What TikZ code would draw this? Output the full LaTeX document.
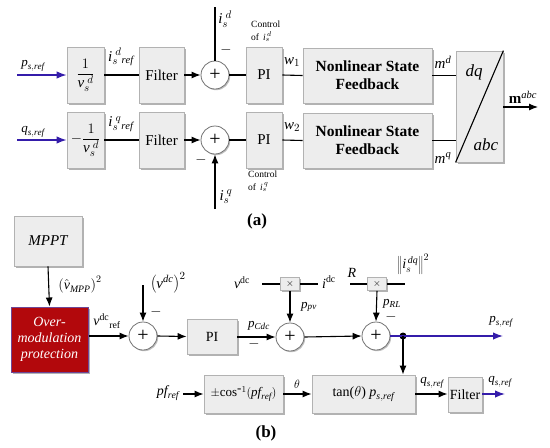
\documentclass[tikz,border=0pt]{standalone}
\usepackage{fontspec}
\setmainfont{Liberation Serif}
\usetikzlibrary{arrows.meta,shadows,calc}
\definecolor{myblue}{RGB}{52,28,170}
\definecolor{myred}{RGB}{178,8,12}
\definecolor{myborder}{RGB}{110,70,150}
\newcommand\mi[1]{\mathit{#1}}
\newcommand\fsz[1]{\fontsize{#1}{#1}\selectfont}
\tikzset{
 blk/.style={draw=black!30, fill=black!7, line width=0.8pt, inner sep=1pt, align=center,
   drop shadow={shadow xshift=1.6pt, shadow yshift=-1.6pt, opacity=0.3, fill=black}},
 sumc/.style={circle, draw=black!55, fill=white, minimum size=28pt, inner sep=0pt, line width=0.8pt,
   drop shadow={shadow xshift=1.2pt, shadow yshift=-1.2pt, opacity=0.25, fill=black}, font=\fsz{20}},
 multbox/.style={draw=black!30, fill=black!7, line width=0.6pt, minimum width=19pt, minimum height=13pt, inner sep=0pt,
   drop shadow={shadow xshift=1pt, shadow yshift=-1pt, opacity=0.3, fill=black}, font=\fsz{10}},
 ln/.style={line width=1.1pt},
 arr/.style={ln, -{Latex[length=9pt,width=7pt]}},
 barr/.style={line width=1.4pt, draw=myblue, -{Latex[length=10pt,width=7.5pt]}},
 lbl/.style={inner sep=0pt, font=\fsz{13}},
 sgn/.style={inner sep=0pt, font=\fsz{15}},
 big/.style={font=\fsz{15}},
 ctl/.style={inner sep=0pt, anchor=north west, align=left, font=\fontsize{9.5}{12.5}\selectfont},
 nsf/.style={blk, minimum width=129pt, minimum height=55pt, font=\bfseries\fontsize{15.5}{18}\selectfont},
}
\begin{document}
\begin{tikzpicture}[x=1pt,y=-1pt]
\useasboundingbox (0,0) rectangle (550,448);

% ---------------- (a) row d ----------------
\coordinate (pin1) at (17,75);
\node[blk, minimum width=37pt, minimum height=56pt, big] (inv1) at (85.5,75) {$\displaystyle\frac{1}{\mi{v}_s^{\;d}}$};
\node[blk, minimum width=45pt, minimum height=56pt, big] (filt1) at (161.5,75) {Filter};
\node[sumc] (sum1) at (215,75) {+};
\node[blk, minimum width=36pt, minimum height=56pt, big] (pi1) at (264,75) {PI};
\node[nsf] (nsf1) at (367.5,75.5) {Nonlinear State\\Feedback};
\node[blk, minimum width=47pt, minimum height=111pt] (dq) at (479.5,106.5) {};
\draw[ln] (dq.north east) -- (dq.south west);
\node[inner sep=0pt, font=\itshape\fsz{17}] (ldq) at (474,72) {dq};
\node[inner sep=0pt, font=\itshape\fsz{17}] (labc) at (486,145) {abc};
\coordinate (mout) at (538,107);
\coordinate (fb1) at (215,7);

\draw[barr] (pin1) -- (inv1.west);
\node[lbl] (lp1) at (33,66) {$\mi{p}_{\mi{s,ref}}$};
\draw[ln] (inv1.east) -- (filt1.west);
\node[lbl, font=\fsz{15}] (lid) at (121,57) {$\mi{i}_s^{\;d}{}_{\mi{ref}}$};
\draw[arr] (filt1.east) -- (sum1.west);
\draw[ln] (sum1.east) -- (pi1.west);
\draw[ln] (pi1.east) -- (nsf1.west);
\node[lbl, font=\fsz{15}] (lw1) at (292,62) {$\mi{w}_1$};
\draw[ln] (nsf1.east) -- (nsf1.east -| dq.west);
\node[lbl, font=\fsz{15}] (lmd) at (443,62) {$\mi{m}^{\mi{d}}$};
\draw[arr] (dq.east |- mout) -- (mout);
\node[lbl, font=\fsz{15}] (lmabc) at (523,97) {$\mathbf{m}^{\mi{abc}}$};
\draw[ln] (fb1) -- (sum1.north);
\node[lbl, font=\fsz{15}] (lisd) at (225,19) {$\mi{i}_s^{\;d}$};
\node[sgn] (m1) at (226,50) {$-$};
\node[ctl] (ctl1) at (251,21) {Control\\of\, $\mi{i}_s^{\,d}$};

% ---------------- (a) row q ----------------
\coordinate (pin2) at (17,140);
\node[blk, minimum width=37pt, minimum height=56pt, big] (inv2) at (85.5,140) {$\displaystyle-\frac{1}{\mi{v}_s^{\;d}}$};
\node[blk, minimum width=45pt, minimum height=56pt, big] (filt2) at (161.5,140) {Filter};
\node[sumc] (sum2) at (215,140) {+};
\node[blk, minimum width=36pt, minimum height=56pt, big] (pi2) at (264,140) {PI};
\node[nsf] (nsf2) at (367.5,140.5) {Nonlinear State\\Feedback};
\coordinate (fb2) at (215,209);

\draw[barr] (pin2) -- (inv2.west);
\node[lbl] (lq1) at (33,132) {$\mi{q}_{\mi{s,ref}}$};
\draw[ln] (inv2.east) -- (filt2.west);
\node[lbl, font=\fsz{15}] (liq) at (121,124) {$\mi{i}_s^{\;q}{}_{\mi{ref}}$};
\draw[arr] (filt2.east) -- (sum2.west);
\draw[ln] (sum2.east) -- (pi2.west);
\draw[ln] (pi2.east) -- (nsf2.west);
\node[lbl, font=\fsz{15}] (lw2) at (292,127) {$\mi{w}_2$};
\draw[ln] (nsf2.east) -- (nsf2.east -| dq.west);
\node[lbl, font=\fsz{15}] (lmq) at (443,158) {$\mi{m}^{\mi{q}}$};
\draw[arr] (fb2) -- (sum2.south);
\node[lbl, font=\fsz{15}] (lisq) at (226,197) {$\mi{i}_s^{\;q}$};
\node[sgn] (m2) at (201,160) {$-$};
\node[ctl] (ctl2) at (248,171) {Control\\of\, $\mi{i}_s^{\,q}$};

\node[inner sep=0pt, font=\bfseries\fsz{17}] (capa) at (257,221) {(a)};

% ---------------- (b) ----------------
\node[blk, minimum width=68pt, minimum height=50pt, font=\itshape\fsz{15}] (mppt) at (48,241) {MPPT};
\node[draw=myborder, fill=myred, line width=1pt, minimum width=77pt, minimum height=65pt, text=white, align=center,
  font=\itshape\fontsize{14}{16}\selectfont,
  drop shadow={shadow xshift=1.6pt, shadow yshift=-1.6pt, opacity=0.3, fill=black}] (omp) at (49.5,339.5) {Over-\\modulation\\protection};
\draw[arr] (mppt.south) -- (omp.north);
\node[lbl, font=\fsz{14}] (lvmpp) at (80,285) {$\left(\hat{\mi{v}}_{\mi{MPP}}\right)^2$};

\node[sumc] (sA) at (143,336) {+};
\node[blk, minimum width=50pt, minimum height=35pt, font=\fsz{14}] (piB) at (212,336.5) {PI};
\node[sumc] (sB) at (290,337) {+};
\node[sumc] (sC) at (376,336) {+};
\node[multbox] (mu1) at (290,284) {$\times$};
\node[multbox] (mu2) at (377,284) {$\times$};
\coordinate (vtop) at (143,285);
\coordinate (vdcL) at (262,284);
\coordinate (idcR) at (318,284);
\coordinate (rL) at (350,284);
\coordinate (iR) at (405,284);
\node[circle, fill=black, inner sep=0pt, minimum size=7pt] (dot) at (403,336) {};
\coordinate (pout) at (503,336);

\draw[arr] (sA.west -| omp.east) -- (sA.west);
\node[lbl, font=\fsz{14}] (lvref) at (107,321) {$\mi{v}^{\mathrm{dc}}{}_{\mathrm{ref}}$};
\draw[arr] (vtop) -- (sA.north);
\node[lbl, font=\fsz{15}] (lvdc2) at (168,283) {$\left(\mi{v}^{\mi{dc}}\right)^2$};
\node[sgn] (m3) at (156,312) {$-$};
\draw[arr] (sA.east) -- (piB.west);
\draw[arr] (piB.east |- sB.west) -- (sB.west);
\node[lbl] (lpc) at (259,326) {$\mi{p}_{\mi{Cdc}}$};
\node[sgn] (m4) at (254,344) {$-$};
\draw[ln] (vdcL) -- (mu1.west);
\draw[ln] (mu1.east) -- (idcR);
\node[lbl, font=\fsz{14}] (lvdc) at (242,283) {$\mi{v}^{\mathrm{dc}}$};
\node[lbl, font=\fsz{14}] (lidc) at (329,282) {$\mi{i}^{\mathrm{dc}}$};
\draw[arr] (mu1.south) -- (sB.north);
\node[lbl] (lppv) at (309,307) {$\mi{p}_{\mi{pv}}$};
\draw[arr] (sB.east) -- (sC.west);
\draw[ln] (rL) -- (mu2.west);
\draw[ln] (mu2.east) -- (iR);
\node[lbl, font=\fsz{14}] (lR) at (352,273) {$\mi{R}$};
\node[lbl, font=\fsz{14}] (lidq) at (413,264) {$\left\|\mi{i}_s^{\,\mi{dq}}\right\|^2$};
\draw[arr] (mu2.south) -- (sC.north);
\node[lbl] (lprl) at (392,304) {$\mi{p}_{\mi{RL}}$};
\node[sgn] (m5) at (391,317) {$-$};
\draw[line width=1.4pt, draw=myblue] (sC.east) -- (dot.center);
\draw[barr] (dot.center) -- (pout);
\node[lbl] (lpout) at (501,322) {$\mi{p}_{\mi{s,ref}}$};

\node[blk, minimum width=79pt, minimum height=38pt, font=\fsz{13}] (cosb) at (243.5,394) {$\pm\mathrm{cos}^{\mbox{-}1}(\mi{pf}_{\mi{ref}})$};
\node[blk, minimum width=103pt, minimum height=38pt, font=\fsz{14}] (tanb) at (363.5,394) {tan($\theta$) $\mi{p}_{\mi{s,ref}}$};
\node[blk, minimum width=34pt, minimum height=35pt, font=\fsz{14}] (filt3) at (465,394.5) {Filter};
\coordinate (pfin) at (183,394);
\coordinate (qout) at (505,394);
\draw[arr] (dot.center) -- (dot.center |- tanb.north);
\draw[arr] (pfin) -- (cosb.west);
\node[lbl, font=\fsz{14}] (lpf) at (168,393) {$\mi{pf}_{\mi{ref}}$};
\draw[arr] (cosb.east) -- (tanb.west);
\node[lbl] (lth) at (297,384) {$\theta$};
\draw[arr] (tanb.east) -- (filt3.west |- tanb.east);
\node[lbl] (lq2) at (432,383) {$\mi{q}_{\mi{s,ref}}$};
\draw[barr] (filt3.east |- qout) -- (qout);
\node[lbl] (lq3) at (500,382) {$\mi{q}_{\mi{s,ref}}$};

\node[inner sep=0pt, font=\bfseries\fsz{17}] (capb) at (266,433) {(b)};
\end{tikzpicture}
\end{document}
